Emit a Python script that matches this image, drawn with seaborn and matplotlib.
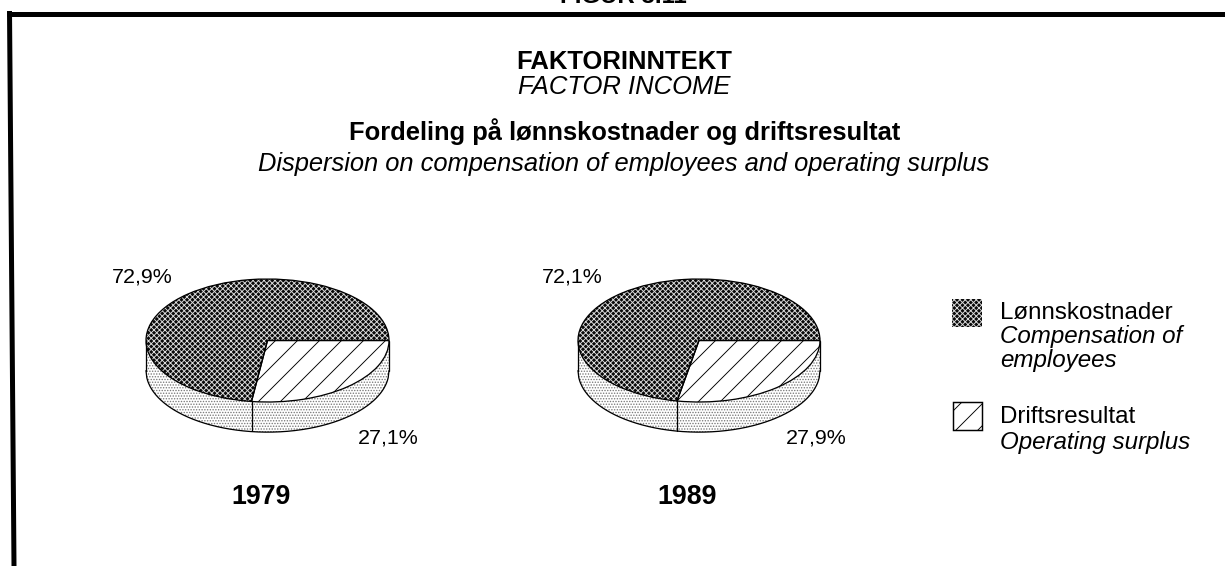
import numpy as np
import seaborn as sns
from matplotlib import pyplot as plt
from matplotlib.patches import Rectangle

years = ["1979", "1989"]
compensation = [72.9, 72.1]
surplus = [27.1, 27.9]

DPI = 132
W, H = 1225, 566
DEPTH = 0.49  # side wall height, relative to the vertical radius

sns.set_theme(style="white")
plt.rcParams["font.family"] = ["Liberation Sans", "DejaVu Sans"]
plt.rcParams["hatch.linewidth"] = 0.5


def pt(px):
    return px * 72 / DPI


def pct(v):
    return f"{v:.1f}%".replace(".", ",")


def draw_pie(fig, left, right, top, bottom, comp, surp):
    height = (bottom - top) * (1 + DEPTH / 2)
    ax = fig.add_axes([left / W, 1 - (top + height) / H, (right - left) / W, height / H])

    # side wall
    xs = np.linspace(-1, 1, 300)
    lower = -np.sqrt(1 - xs ** 2)
    ax.fill_between(xs, lower, lower - DEPTH, facecolor="white", edgecolor="#777777",
                    hatch="........", linewidth=0)
    ax.plot(xs, lower - DEPTH, color="black", lw=0.7, clip_on=False)
    ax.plot([-1, -1], [0, -DEPTH], color="black", lw=0.7, clip_on=False)
    ax.plot([1, 1], [0, -DEPTH], color="black", lw=0.7, clip_on=False)
    tip = surp / (surp + comp) * 2 * np.pi
    tip_x, tip_y = np.cos(tip), -np.sin(tip)
    ax.plot([tip_x, tip_x], [tip_y, tip_y - DEPTH], color="black", lw=0.7)

    # top face
    wedges, _ = ax.pie([surp, comp], startangle=0, counterclock=False, radius=1)
    wedges[0].set(facecolor="white", edgecolor="black", hatch="//", linewidth=0)
    wedges[1].set(facecolor="#0a0a0a", edgecolor="#dddddd", hatch="x" * 8, linewidth=0)
    outline, _ = ax.pie([surp, comp], startangle=0, counterclock=False, radius=1,
                        wedgeprops=dict(fill=False, edgecolor="black", linewidth=0.7))

    ax.set_aspect("auto")
    ax.set_xlim(-1, 1)
    ax.set_ylim(-1 - DEPTH, 1)
    ax.axis("off")


fig = plt.figure(figsize=(W / DPI, H / DPI), dpi=DPI)
bg = fig.add_axes([0, 0, 1, 1])
bg.set_xlim(0, W)
bg.set_ylim(H, 0)
bg.axis("off")

# frame, open on the right
bg.plot([7, W], [13.5, 13.5], color="black", lw=pt(5), solid_capstyle="butt")
bg.plot([9.5, 14], [11, H], color="black", lw=pt(5), solid_capstyle="butt")

bg.text(623, 3, "FIGUR 3.11", ha="center", va="baseline", fontsize=pt(24), fontweight="bold", color="black")
bg.text(624, 62, "FAKTORINNTEKT", ha="center", va="center", fontsize=pt(25.6), fontweight="bold", color="black")
bg.text(624, 87, "FACTOR INCOME", ha="center", va="center", fontsize=pt(25.6), style="italic", color="black")
bg.text(625, 132, "Fordeling på lønnskostnader og driftsresultat", ha="center", va="center",
        fontsize=pt(25.5), fontweight="bold", color="black")
bg.text(624, 164, "Dispersion on compensation of employees and operating surplus", ha="center", va="center",
        fontsize=pt(25.5), style="italic", color="black")

draw_pie(fig, 146, 389, 279, 402, compensation[0], surplus[0])
draw_pie(fig, 578, 820, 279, 402, compensation[1], surplus[1])

comp_label_x = [142, 572]
surp_label_x = [388, 816]
year_x = [261, 687]
for i in range(2):
    bg.text(comp_label_x[i], 277, pct(compensation[i]), ha="center", va="center", fontsize=pt(21.5), color="black")
    bg.text(surp_label_x[i], 438, pct(surplus[i]), ha="center", va="center", fontsize=pt(21.5), color="black")
    bg.text(year_x[i], 497, years[i], ha="center", va="center", fontsize=pt(26.7), fontweight="bold", color="black")

# legend
bg.add_patch(Rectangle((952, 299), 30, 28, facecolor="#0a0a0a", edgecolor="#dddddd", hatch="x" * 8, linewidth=0))
bg.add_patch(Rectangle((953, 402), 29, 28, facecolor="white", edgecolor="black", hatch="//", linewidth=0.8))
bg.text(1000, 313, "Lønnskostnader", va="center", fontsize=pt(24.2), color="black")
bg.text(1000, 337, "Compensation of", va="center", fontsize=pt(24.2), style="italic", color="black")
bg.text(1000, 361, "employees", va="center", fontsize=pt(24.2), style="italic", color="black")
bg.text(1000, 417, "Driftsresultat", va="center", fontsize=pt(24.2), color="black")
bg.text(1000, 442, "Operating surplus", va="center", fontsize=pt(24.2), style="italic", color="black")

fig.savefig("out.png", dpi=DPI)
